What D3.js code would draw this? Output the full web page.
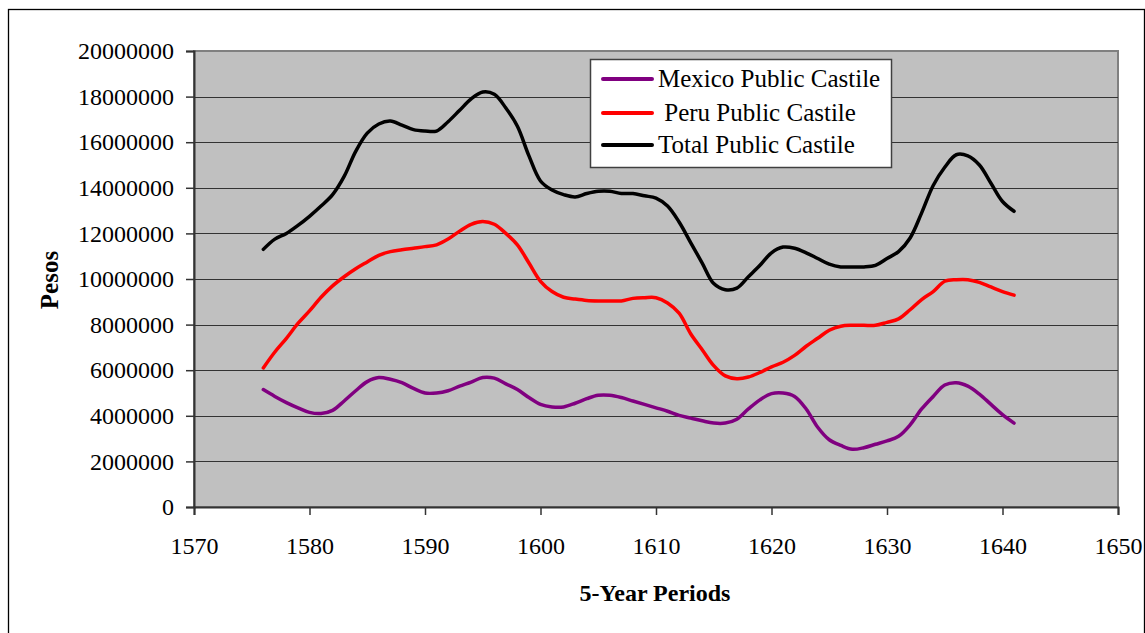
<!DOCTYPE html>
<html>
<head>
<meta charset="utf-8">
<script src="https://cdn.jsdelivr.net/npm/d3@7"></script>
<style>
  body { margin: 0; background: #fff; }
  svg text { font-family: "Liberation Serif", "Times New Roman", serif; }
</style>
</head>
<body>
<svg id="chart" width="1145" height="633"></svg>
<script>
// years (annual points, 5-year periods)
const years = d3.range(1576, 1642);

// values in pesos (millions)
const mexico = [
  5.15, 4.85, 4.58, 4.35, 4.15, 4.1, 4.24, 4.65, 5.1, 5.5,
  5.68, 5.6, 5.45, 5.2, 5.0, 5.0, 5.1, 5.3, 5.48, 5.68,
  5.65, 5.4, 5.15, 4.8, 4.5, 4.39, 4.39, 4.55, 4.75, 4.9,
  4.9, 4.8, 4.65, 4.5, 4.35, 4.2, 4.02, 3.9, 3.78, 3.68,
  3.68, 3.85, 4.3, 4.7, 4.97, 5.0, 4.85, 4.3, 3.5, 2.95,
  2.7, 2.53, 2.6, 2.75, 2.9, 3.1, 3.6, 4.3, 4.85, 5.35,
  5.45, 5.3, 4.95, 4.5, 4.05, 3.68
];
const peru = [
  6.1, 6.8, 7.4, 8.05, 8.6, 9.2, 9.7, 10.1, 10.45, 10.75,
  11.04, 11.2, 11.28, 11.35, 11.42, 11.5, 11.75, 12.1, 12.4, 12.52,
  12.4, 12.0, 11.5, 10.7, 9.9, 9.45, 9.2, 9.12, 9.06, 9.04,
  9.04, 9.04, 9.15, 9.18, 9.18, 8.95, 8.5, 7.6, 6.9, 6.2,
  5.75, 5.63, 5.7, 5.9, 6.15, 6.35, 6.65, 7.05, 7.4, 7.75,
  7.93, 7.97, 7.97, 7.97, 8.1, 8.25, 8.65, 9.1, 9.45, 9.9,
  9.97, 9.97, 9.85, 9.65, 9.45, 9.29
];
const total = [
  11.3, 11.75, 12.0, 12.35, 12.75, 13.2, 13.7, 14.5, 15.6, 16.4,
  16.8, 16.93, 16.75, 16.55, 16.49, 16.49, 16.9, 17.4, 17.9, 18.2,
  18.1, 17.5, 16.7, 15.4, 14.3, 13.9, 13.7, 13.6, 13.75, 13.85,
  13.85, 13.75, 13.75, 13.65, 13.55, 13.2, 12.5, 11.6, 10.7, 9.8,
  9.53, 9.6, 10.1, 10.6, 11.15, 11.4, 11.35, 11.15, 10.9, 10.65,
  10.53, 10.53, 10.53, 10.6, 10.9, 11.2, 11.8, 12.9, 14.1, 14.9,
  15.45, 15.4, 15.0, 14.2, 13.4, 12.97
];

const seriesNames = ["Mexico Public Castile", " Peru Public Castile", "Total Public Castile"];
const seriesColors = ["#800080", "#ff0000", "#000000"];
const xTicks = [1570, 1580, 1590, 1600, 1610, 1620, 1630, 1640, 1650];
const yTicks = d3.range(0, 20000001, 2000000);

const svg = d3.select("#chart");

// outer frame
svg.append("rect")
  .attr("x", 8.5).attr("y", 9.5)
  .attr("width", 1136).attr("height", 640)
  .attr("fill", "none").attr("stroke", "#000").attr("stroke-width", 1.3);

const plotLeft = 194, plotRight = 1118, plotTop = 51, plotBottom = 507;

const x = d3.scaleLinear().domain([1570, 1650]).range([plotLeft, plotRight]);
const y = d3.scaleLinear().domain([0, 20000000]).range([plotBottom, plotTop]);

// plot area
svg.append("rect")
  .attr("x", plotLeft).attr("y", plotTop)
  .attr("width", plotRight - plotLeft).attr("height", plotBottom - plotTop)
  .attr("fill", "#c0c0c0").attr("stroke", "#808080").attr("stroke-width", 2);

// gridlines
svg.append("g")
  .selectAll("line")
  .data(yTicks.slice(1, -1))
  .join("line")
  .attr("x1", plotLeft).attr("x2", plotRight)
  .attr("y1", (d) => Math.round(y(d)) + 0.5)
  .attr("y2", (d) => Math.round(y(d)) + 0.5)
  .attr("stroke", "#333").attr("stroke-width", 1);

// Y axis
const yAxis = svg.append("g")
  .attr("transform", `translate(${plotLeft},0)`)
  .call(d3.axisLeft(y).tickValues(yTicks).tickFormat(d3.format("d")).tickSize(8).tickPadding(12));
yAxis.select(".domain").attr("stroke", "#333").attr("stroke-width", 2);
yAxis.selectAll(".tick line").attr("stroke", "#333").attr("stroke-width", 1.5);
yAxis.selectAll(".tick text")
  .attr("font-size", 24).attr("fill", "#000")
  .style("font-family", "'Liberation Serif', serif");

// X axis
const xAxis = svg.append("g")
  .attr("transform", `translate(0,${plotBottom})`)
  .call(d3.axisBottom(x).tickValues(xTicks).tickFormat(d3.format("d")).tickSize(8).tickPadding(22));
xAxis.select(".domain").attr("stroke", "#333").attr("stroke-width", 2);
xAxis.selectAll(".tick line").attr("stroke", "#333").attr("stroke-width", 1.5);
xAxis.selectAll(".tick text")
  .attr("font-size", 24).attr("fill", "#000")
  .style("font-family", "'Liberation Serif', serif");

// lines
const allSeries = [mexico, peru, total];
const line = d3.line()
  .x((d, i) => x(years[i]))
  .y((d) => y(d * 1000000))
  .curve(d3.curveCatmullRom.alpha(0.5));

svg.append("g")
  .selectAll("path")
  .data(allSeries)
  .join("path")
  .attr("d", (d) => line(d))
  .attr("fill", "none")
  .attr("stroke", (d, i) => seriesColors[i])
  .attr("stroke-width", 3.5)
  .attr("stroke-linejoin", "round")
  .attr("stroke-linecap", "round");

// axis titles
svg.append("text")
  .attr("x", 655).attr("y", 601)
  .attr("text-anchor", "middle")
  .attr("font-size", 24).attr("font-weight", "bold")
  .text("5-Year Periods");

svg.append("text")
  .attr("transform", "translate(58,280) rotate(-90)")
  .attr("text-anchor", "middle")
  .attr("font-size", 25).attr("font-weight", "bold")
  .text("Pesos");

// legend
const legend = svg.append("g").attr("transform", "translate(590,59)");
legend.append("rect")
  .attr("x", 0.5).attr("y", 0.5)
  .attr("width", 301).attr("height", 108)
  .attr("fill", "#fff").attr("stroke", "#404040").attr("stroke-width", 1.5);

const rows = [20, 54, 86];
seriesNames.forEach((name, i) => {
  legend.append("line")
    .attr("x1", 13).attr("x2", 62)
    .attr("y1", rows[i]).attr("y2", rows[i])
    .attr("stroke", seriesColors[i]).attr("stroke-width", 4)
    .attr("stroke-linecap", "round");
  legend.append("text")
    .attr("x", 68).attr("y", rows[i] + 8)
    .attr("font-size", 25)
    .attr("xml:space", "preserve")
    .style("white-space", "pre")
    .text(name);
});
</script>
</body>
</html>
